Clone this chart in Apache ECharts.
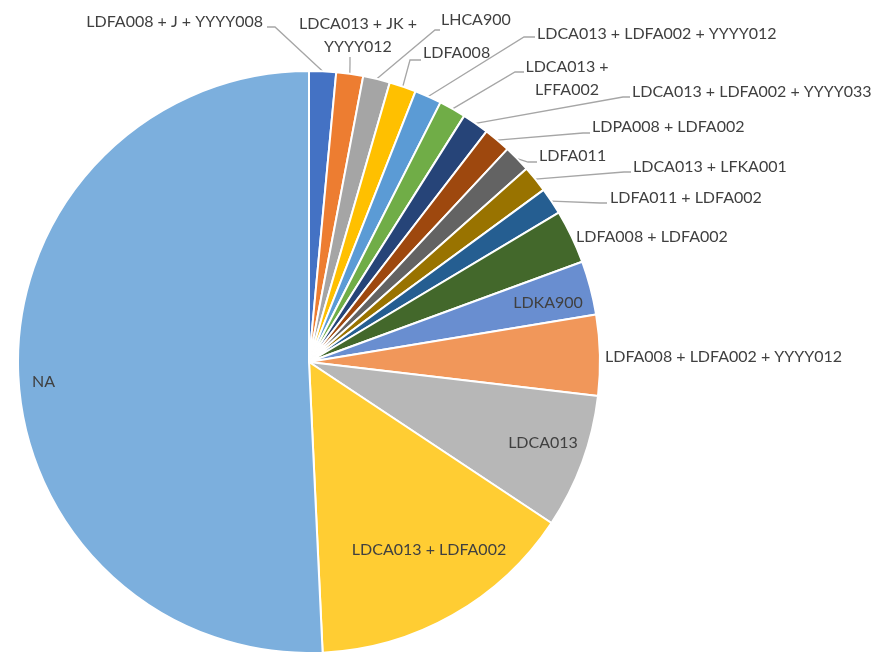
<!DOCTYPE html>
<html><head><meta charset="utf-8">
<script src="https://cdn.jsdelivr.net/npm/echarts@6/dist/echarts.min.js"></script>
<style>html,body{margin:0;padding:0;background:#fff}#c{width:873px;height:652px}</style>
</head><body><div id="c"></div>
<script>
// ---- data ----
const categories = [
  'LDFA008 + J + YYYY008',
  'LDCA013 + JK + YYYY012',
  'LHCA900',
  'LDFA008',
  'LDCA013 + LDFA002 + YYYY012',
  'LDCA013 + LFFA002',
  'LDCA013 + LDFA002 + YYYY033',
  'LDPA008 + LDFA002',
  'LDFA011',
  'LDCA013 + LFKA001',
  'LDFA011 + LDFA002',
  'LDFA008 + LDFA002',
  'LDKA900',
  'LDFA008 + LDFA002 + YYYY012',
  'LDCA013',
  'LDCA013 + LDFA002',
  'NA'
];
const counts = [1, 1, 1, 1, 1, 1, 1, 1, 1, 1, 1, 2, 2, 3, 5, 10, 34];

// ---- styles ----
const colors = ['#4472C4','#ED7D31','#A5A5A5','#FFC000','#5B9BD5','#70AD47',
  '#264478','#9E480E','#636363','#997300','#255E91','#43682B',
  '#698ED0','#F1975A','#B7B7B7','#FFCD33','#7CAFDD'];
// label placement (manual, like the original's dragged labels)
const labelPlace = [
  {x:263, y:22, align:'right', bend:[275,27], end:[267,27]},
  {x:358, y:35, align:'center', bend:[350,64], end:[350,57], wrap:'LDCA013 + JK +\nYYYY012'},
  {x:441, y:20, align:'left', bend:[435,30], end:[440,30]},
  {x:423, y:53, align:'left', bend:[410,60], end:[421,60]},
  {x:537, y:34, align:'left', bend:[524,37], end:[535,37]},
  {x:567, y:78.5, align:'center', bend:[515,72], end:[524,72], wrap:'LDCA013 +\nLFFA002'},
  {x:632, y:92, align:'left', bend:[623,97], end:[630,97]},
  {x:592, y:127, align:'left', bend:[583,133], end:[590,133]},
  {x:539, y:156, align:'left', bend:[528,162], end:[537,162]},
  {x:633, y:167, align:'left', bend:[624,172], end:[631,172]},
  {x:610, y:198, align:'left', bend:[600,203], end:[607,203]},
  {x:576, y:237, align:'left'},
  {x:548, y:303, align:'center'},
  {x:605, y:357, align:'left'},
  {x:543, y:443, align:'center'},
  {x:429, y:550, align:'center'},
  {x:43.5, y:382, align:'center'}
];

const FONT = 'Lato';
const FS = 16;

const data = categories.map((name, i) => {
  const p = labelPlace[i];
  return {
    name: name,
    value: counts[i],
    itemStyle: {color: colors[i]},
    label: {formatter: p.wrap ? p.wrap : '{b}'},
    labelLine: {show: !!p.bend}
  };
});

const chart = echarts.init(document.getElementById('c'), null, {renderer: 'canvas'});
chart.setOption({
  animation: false,
  backgroundColor: '#ffffff',
  series: [{
    type: 'pie',
    center: [309, 362],
    radius: [0, 291],
    startAngle: 90,
    clockwise: true,
    avoidLabelOverlap: false,
    emphasis: {disabled: true},
    itemStyle: {borderColor: '#ffffff', borderWidth: 2},
    label: {
      show: true,
      position: 'outside',
      color: '#404040',
      fontFamily: FONT,
      fontSize: FS,
      lineHeight: 23
    },
    labelLine: {show: true, length: 10, length2: 10, smooth: false,
      lineStyle: {color: '#A6A6A6', width: 1.3}},
    labelLayout: function (params) {
      const p = labelPlace[params.dataIndex];
      const res = {x: p.x, y: p.y, align: p.align, verticalAlign: 'middle'};
      if (p.bend && params.labelLinePoints) {
        const p0 = params.labelLinePoints[0];
        res.labelLinePoints = [[p0[0], p0[1]], p.bend, p.end];
      }
      return res;
    },
    data: data
  }]
});
</script></body></html>
